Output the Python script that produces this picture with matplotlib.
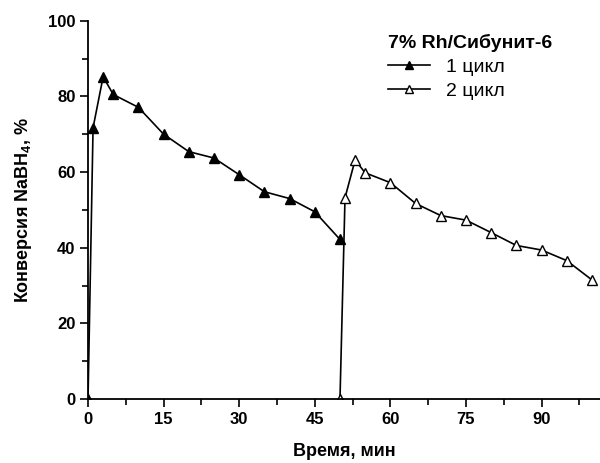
import matplotlib
matplotlib.use("Agg")
from matplotlib import pyplot as plt
from matplotlib.ticker import MultipleLocator

plt.rcParams['font.family'] = ['Liberation Sans', 'DejaVu Sans']
plt.rcParams['mathtext.fontset'] = 'custom'
plt.rcParams['mathtext.rm'] = 'Liberation Sans'
plt.rcParams['mathtext.bf'] = 'Liberation Sans:bold'

# 1 цикл
t1 = [0, 1, 3, 5, 10, 15, 20, 25, 30, 35, 40, 45, 50]
conv1 = [0, 71.7, 85.2, 80.5, 77.1, 70.0, 65.4, 63.7, 59.3, 54.8, 53.0, 49.5, 42.2]
# 2 цикл
t2 = [50, 51, 53, 55, 60, 65, 70, 75, 80, 85, 90, 95, 100]
conv2 = [0, 53.2, 63.2, 59.8, 57.2, 51.7, 48.5, 47.3, 44.0, 40.6, 39.4, 36.6, 31.5]

fig = plt.figure(figsize=(6, 4.63), dpi=100)
ax = fig.add_axes([0.1467, 0.138, 0.8533, 0.8173])

ax.plot(t1, conv1, '-', color='black', lw=1.2, marker='^', markersize=7.5,
        markerfacecolor='black', markeredgecolor='black',
        label='1 цикл', zorder=3)
ax.plot(t2, conv2, '-', color='black', lw=1.2, marker='^', markersize=7.5,
        markerfacecolor='white', markeredgecolor='black',
        label='2 цикл', zorder=3)

ax.set_xlim(0, 101.6)
ax.set_ylim(0, 100)
ax.xaxis.set_major_locator(MultipleLocator(15))
ax.xaxis.set_minor_locator(MultipleLocator(7.5))
ax.yaxis.set_major_locator(MultipleLocator(20))
ax.yaxis.set_minor_locator(MultipleLocator(10))

for s in ['top', 'right']:
    ax.spines[s].set_visible(False)
for s in ['left', 'bottom']:
    ax.spines[s].set_linewidth(1.3)
    ax.spines[s].set_zorder(4)

ax.tick_params(which='major', direction='out', length=6, width=1.2, pad=3,
               labelsize=12)
ax.tick_params(which='minor', direction='out', length=4, width=1.2)
for lb in ax.get_xticklabels() + ax.get_yticklabels():
    lb.set_fontweight('bold')

ax.set_xlabel('Время, мин', fontsize=13, fontweight='bold', labelpad=12)
ax.set_ylabel('Конверсия NaBH$_\\mathbf{4}$, %', fontsize=13, fontweight='bold', labelpad=10)

leg = ax.legend(loc='upper left', bbox_to_anchor=(0.585, 0.966), frameon=False,
                fontsize=14, title='7% Rh/Сибунит-6', handlelength=2.2,
                markerscale=0.75, labelspacing=0.34, alignment='left',
                borderaxespad=0, borderpad=0, handletextpad=0.8)
leg.get_title().set_fontweight('bold')
leg.get_title().set_fontsize(14)

fig.savefig('out.png', dpi=100)
